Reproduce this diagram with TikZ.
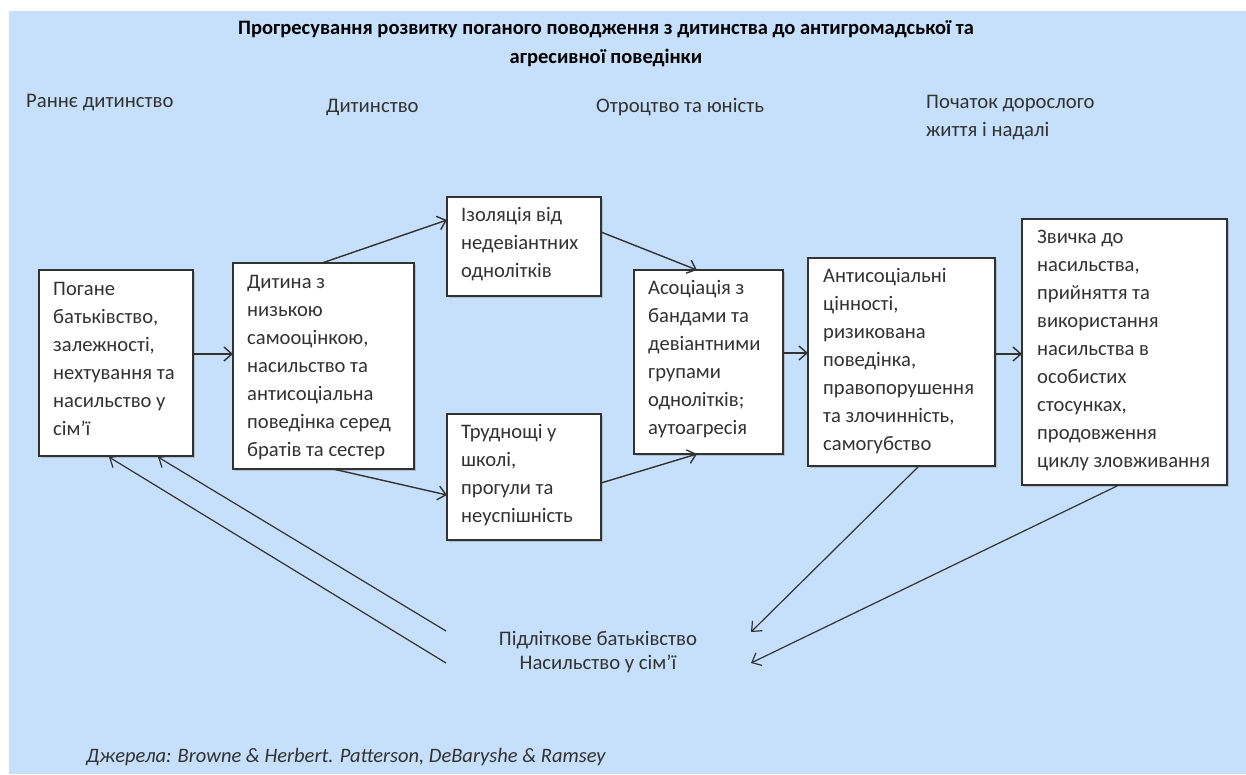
\documentclass[tikz,border=0pt]{standalone}
\usepackage{fontspec}
\setmainfont{Carlito}
\usetikzlibrary{arrows.meta,shadows}
\definecolor{bgblue}{RGB}{198,224,251}
\definecolor{ink}{RGB}{50,50,50}
\begin{document}
\begin{tikzpicture}[x=1pt,y=-1pt,
  stagebox/.style={draw=ink, line width=1.3pt, fill=white, rectangle, inner sep=0pt, outer sep=0pt, anchor=north west,
    drop shadow={shadow xshift=1.5pt, shadow yshift=-1.5pt, opacity=0.35}},
  boxtext/.style={anchor=north west, inner sep=0pt, align=left, text=ink, font=\fontsize{20.6}{28}\selectfont},
  headtext/.style={anchor=base west, inner sep=0pt, align=left, text=ink, font=\fontsize{20.7}{28}\selectfont},
  titletext/.style={inner sep=0pt, align=center, text=black, font=\bfseries\fontsize{20.5}{29}\selectfont},
  arr/.style={draw=ink, line width=1.4pt, -{Straight Barb[length=8pt,width=14pt,line width=1.4pt]}},
  back/.style={draw=ink, line width=1.2pt, -{Straight Barb[length=8pt,width=14pt,line width=1.2pt]}}
]
\useasboundingbox (0,0) rectangle (1246,774);
\fill[white] (0,0) rectangle (1246,774);
\fill[bgblue] (9,11) rectangle (1246,774);

% title (base anchor = baseline of last line)
\node[titletext, anchor=base] (title) at (606,63) {Прогресування розвитку поганого поводження з дитинства до антигромадської та\\агресивної поведінки};

% stage headings
\node[headtext] (h1) at (26,107) {Раннє дитинство};
\node[headtext] (h2) at (326,112) {Дитинство};
\node[headtext] (h3) at (596,112) {Отроцтво та юність};
\node[headtext] (h4) at (926,136) {Початок дорослого\\життя і надалі};

% boxes
\node[stagebox, minimum width=154, minimum height=186] (b1) at (39,270) {};
\node[stagebox, minimum width=181, minimum height=206] (b2) at (233,263) {};
\node[stagebox, minimum width=154, minimum height=99] (b3) at (447,197) {};
\node[stagebox, minimum width=154, minimum height=126] (b4) at (447,414) {};
\node[stagebox, minimum width=149, minimum height=184] (b5) at (634,270) {};
\node[stagebox, minimum width=187, minimum height=208] (b6) at (808,258) {};
\node[stagebox, minimum width=205, minimum height=266] (b7) at (1022,219) {};

\node[boxtext] (t1) at ([shift={(14,6)}]b1.north west) {\rule{0pt}{19pt}Погане\\батьківство,\\залежності,\\нехтування та\\насильство у\\сім’ї};
\node[boxtext] (t2) at ([shift={(14,6)}]b2.north west) {\rule{0pt}{19pt}Дитина з\\низькою\\самооцінкою,\\насильство та\\антисоціальна\\поведінка серед\\братів та сестер};
\node[boxtext] (t3) at ([shift={(14,5)}]b3.north west) {\rule{0pt}{19pt}Ізоляція від\\недевіантних\\однолітків};
\node[boxtext] (t4) at ([shift={(14,5)}]b4.north west) {\rule{0pt}{19pt}Труднощі у\\школі,\\прогули та\\неуспішність};
\node[boxtext] (t5) at ([shift={(14,5)}]b5.north west) {\rule{0pt}{19pt}Асоціація з\\бандами та\\девіантними\\групами\\однолітків;\\аутоагресія};
\node[boxtext] (t6) at ([shift={(15,5)}]b6.north west) {\rule{0pt}{19pt}Антисоціальні\\цінності,\\ризикована\\поведінка,\\правопорушення\\та злочинність,\\самогубство};
\node[boxtext] (t7) at ([shift={(15,5)}]b7.north west) {\rule{0pt}{19pt}Звичка до\\насильства,\\прийняття та\\використання\\насильства в\\особистих\\стосунках,\\продовження\\циклу зловживання};

% bottom text
\node[titletext, font=\fontsize{20.7}{24}\selectfont, text=ink, anchor=base] (bot) at (598,669) {Підліткове батьківство\\Насильство у сім’ї};

% source
\node[headtext, font=\itshape\fontsize{20.5}{24}\selectfont] (src) at (86,762) {Джерела: Browne \& Herbert. Patterson, DeBaryshe \& Ramsey};

% forward arrows
\draw[arr] (b1.east |- 0,354) -- (b2.west |- 0,354);
\draw[arr] (322,263) -- (b3.west |- 0,220);
\draw[arr] (333,469) -- (b4.west |- 0,495);
\draw[arr] (b3.east |- 0,232) -- (697,270);
\draw[arr] (b4.east |- 0,483) -- (697,454);
\draw[arr] (b5.east |- 0,353) -- (b6.west |- 0,353);
\draw[arr] (b6.east |- 0,354) -- (b7.west |- 0,354);

% cycle arrows
\coordinate (c1) at (918,467);
\coordinate (c2) at (1117,486);
\coordinate (e1) at (751,632);
\coordinate (e2) at (751,663);
\draw[back] (c1) -- (e1);
\draw[back] (c2) -- (e2);
\coordinate (s1) at (446,631);
\coordinate (s2) at (446,663);
\draw[back] (s1) -- (158,457);
\draw[back] (s2) -- (109,457);
\end{tikzpicture}
\end{document}
